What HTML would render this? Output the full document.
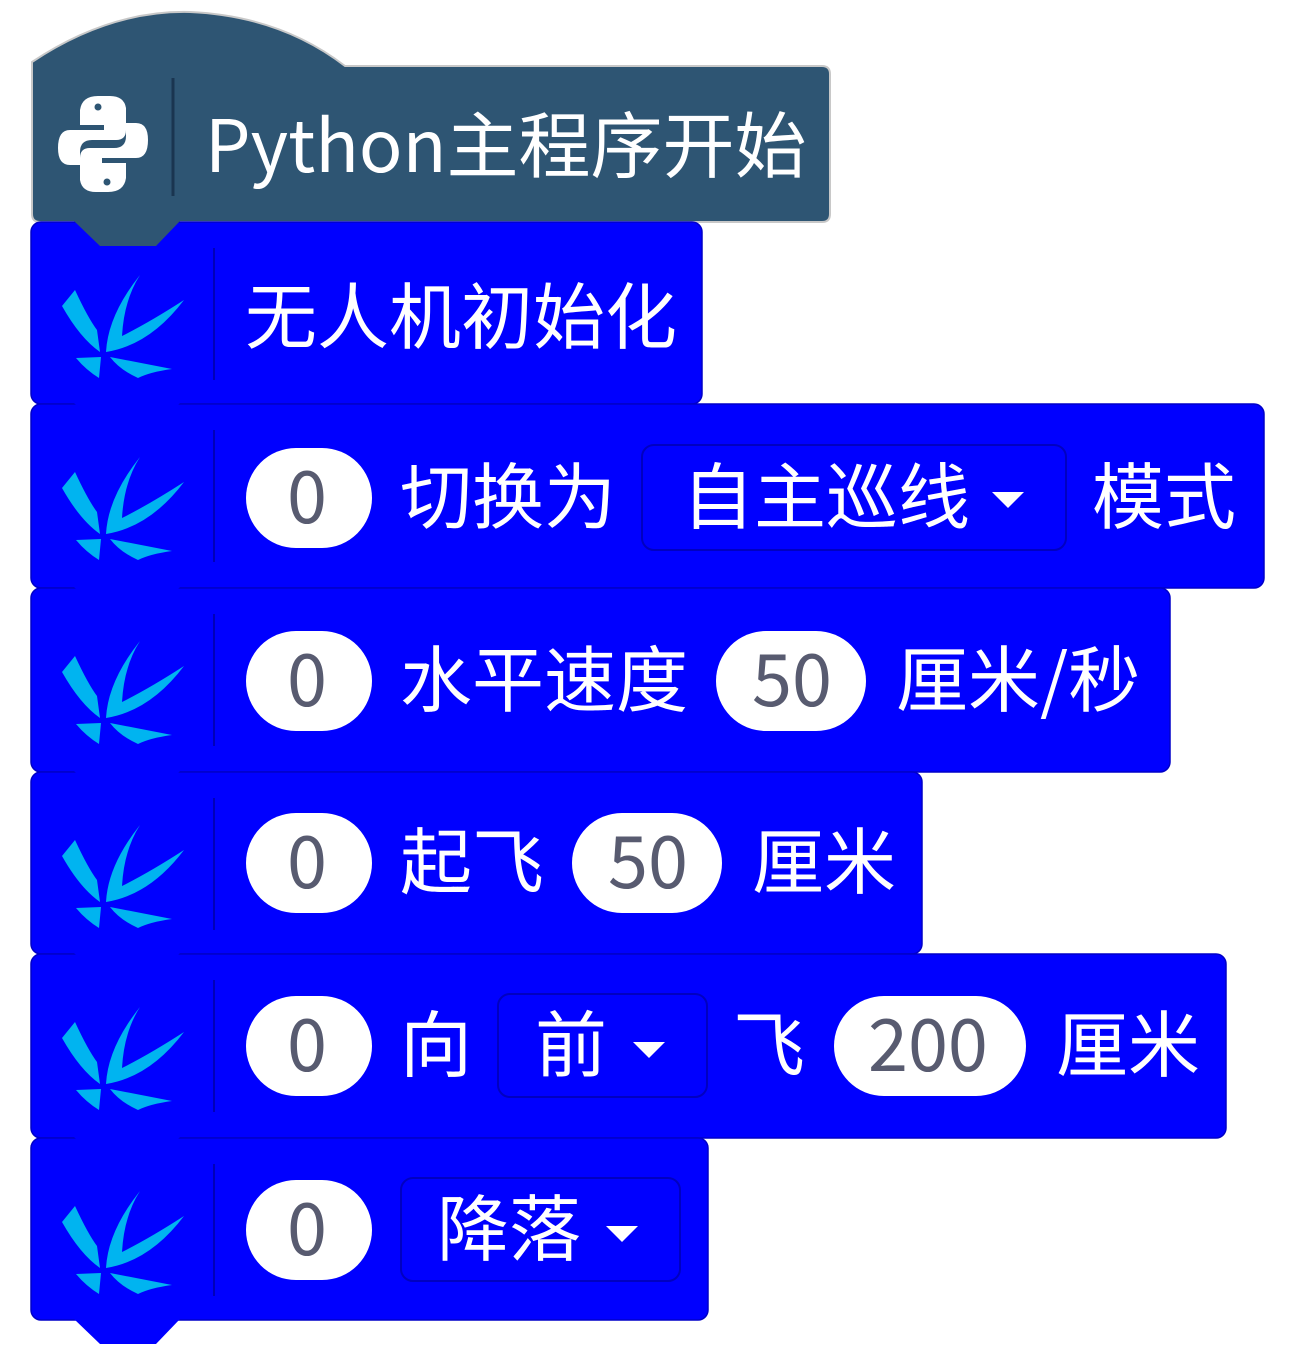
<!DOCTYPE html>
<html><head><meta charset="utf-8"><style>
html,body{margin:0;padding:0;background:#fff;}
svg{display:block}
text{font-family:"Liberation Sans","Noto Sans CJK SC",sans-serif;font-size:72px;fill:#fff}
.n{fill:#585b70;font-family:"Noto Sans CJK SC","Liberation Sans",sans-serif}
.t{font-family:"Noto Sans CJK SC","Liberation Sans",sans-serif}
</style></head><body>
<svg width="1294" height="1347" viewBox="0 0 1294 1347" xmlns="http://www.w3.org/2000/svg">
<defs>
<g id="ic">
<path d="M140 275 Q108 315 106 352 Q150 345 184 300 Q150 322 122 336 Q124 300 140 275Z" fill="#00b4f0"/>
<path d="M62 306 Q80 338 100 352 L97 330 Q88 318 75 290 Z" fill="#00b4f0"/>
<path d="M76 358 L101 357 L99 378 Q86 370 76 358Z" fill="#00b4f0"/>
<path d="M110 357 L172 369 Q150 372 138 378 Q120 370 110 357Z" fill="#00b4f0"/>
<line x1="214" y1="248" x2="214" y2="380" stroke="#0000b8" stroke-width="2"/>
</g>
<path id="tab" d="M74 0 L100 25 L156 25 L180 0Z"/>
</defs>
<!-- hat -->
<path d="M32 62 Q110 10 190 12 Q280 16 345 66 L822 66 Q830 66 830 74 L830 214 Q830 222 822 222 L40 222 Q32 222 32 214Z" fill="#2e5573" stroke="#c8c8c8" stroke-width="2"/>
<line x1="173" y1="78" x2="173" y2="196" stroke="#1a3550" stroke-width="3"/>
<g fill="#fff">
<path d="M98 96 Q82 96 80 110 L80 125 L104 125 L104 130 L70 130 Q58 130 58 148 Q58 165 70 165 L80 165 L80 152 Q80 140 92 140 L116 140 Q126 140 126 130 L126 108 Q124 96 110 96Z"/>
<path d="M108 192 Q124 192 126 178 L126 163 L102 163 L102 158 L136 158 Q148 158 148 140 Q148 123 136 123 L126 123 L126 136 Q126 148 114 148 L90 148 Q80 148 80 158 L80 180 Q82 192 96 192Z"/>
</g>
<circle cx="98" cy="107" r="3.5" fill="#2e5573"/><circle cx="107" cy="182" r="3.5" fill="#2e5573"/>
<text x="205" y="172" class="t">Python主程序开始</text>

<g fill="#0000ff" stroke="#0000c8" stroke-width="1.5">
<rect x="31" y="222" width="671" height="182" rx="10"/>
<rect x="31" y="404" width="1233" height="184" rx="10"/>
<rect x="31" y="588" width="1139" height="184" rx="10"/>
<rect x="31" y="772" width="891" height="182" rx="10"/>
<rect x="31" y="954" width="1195" height="184" rx="10"/>
<rect x="31" y="1138" width="677" height="182" rx="10"/>
</g>
<use href="#tab" y="221" fill="#2e5573"/>
<g fill="#0000ff">
<use href="#tab" y="403"/><use href="#tab" y="587"/><use href="#tab" y="771"/>
<use href="#tab" y="953"/><use href="#tab" y="1137"/><use href="#tab" y="1319"/>
</g>
<use href="#ic"/>
<use href="#ic" y="182"/>
<use href="#ic" y="366"/>
<use href="#ic" y="550"/>
<use href="#ic" y="732"/>
<use href="#ic" y="916"/>

<text x="245" y="343" class="t">无人机初始化</text>

<g fill="#fff">
<rect x="246" y="448" width="126" height="100" rx="50"/>
<rect x="246" y="631" width="126" height="100" rx="50"/>
<rect x="716" y="631" width="150" height="100" rx="50"/>
<rect x="246" y="813" width="126" height="100" rx="50"/>
<rect x="572" y="813" width="150" height="100" rx="50"/>
<rect x="246" y="996" width="126" height="100" rx="50"/>
<rect x="834" y="996" width="192" height="100" rx="50"/>
<rect x="246" y="1180" width="126" height="100" rx="50"/>
</g>
<g fill="none" stroke="#0000c0" stroke-width="2">
<rect x="642" y="445" width="424" height="105" rx="12"/>
<rect x="498" y="994" width="209" height="103" rx="12"/>
<rect x="401" y="1178" width="279" height="103" rx="12"/>
</g>
<g fill="#fff">
<path d="M992 492 L1024 492 L1008 508Z"/>
<path d="M633 1042 L665 1042 L649 1058Z"/>
<path d="M606 1226 L638 1226 L622 1242Z"/>
</g>
<text x="287" y="523" class="n">0</text>
<text x="400" y="523" class="t">切换为</text>
<text x="682" y="523" class="t">自主巡线</text>
<text x="1092" y="523" class="t">模式</text>

<text x="287" y="706" class="n">0</text>
<text x="400" y="706" class="t">水平速度</text>
<text x="752" y="706" class="n">50</text>
<text x="896" y="706" class="t">厘米/秒</text>

<text x="287" y="888" class="n">0</text>
<text x="400" y="888" class="t">起飞</text>
<text x="608" y="888" class="n">50</text>
<text x="752" y="888" class="t">厘米</text>

<text x="287" y="1071" class="n">0</text>
<text x="400" y="1071" class="t">向</text>
<text x="535" y="1071" class="t">前</text>
<text x="733" y="1071" class="t">飞</text>
<text x="868" y="1071" class="n">200</text>
<text x="1056" y="1071" class="t">厘米</text>

<text x="287" y="1255" class="n">0</text>
<text x="437" y="1255" class="t">降落</text>
</svg>
</body></html>
